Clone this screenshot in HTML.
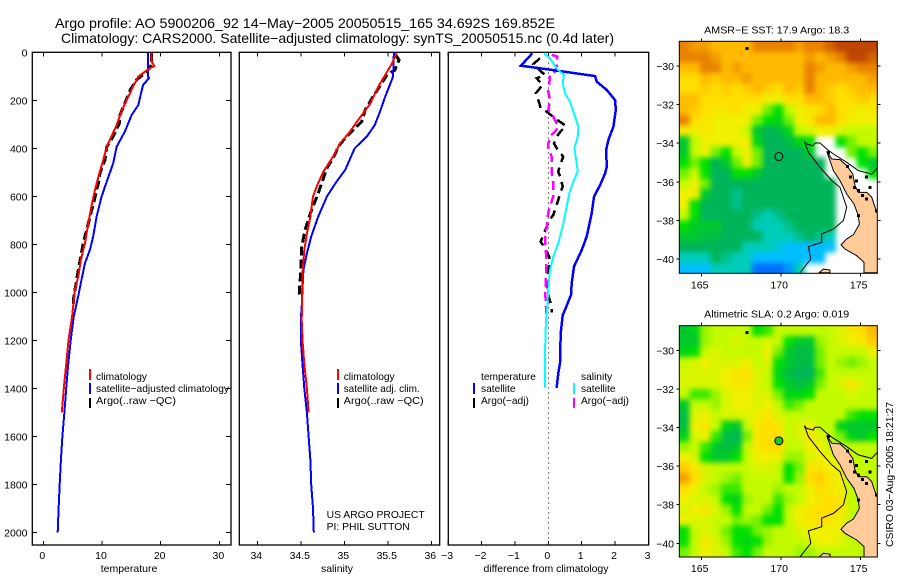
<!DOCTYPE html>
<html lang="en">
<head>
<meta charset="utf-8">
<title>Argo profile 5900206_92</title>
<style>
html,body{margin:0;padding:0;background:#fff;}
svg{display:block;font-family:"Liberation Sans",sans-serif;fill:#000;}
text{font-size:10.5px;}
.tick{font-size:10.5px;}
.title{font-size:14px;}
.leg{font-size:10.2px;}
</style>
</head>
<body>
<svg id="chart" xmlns="http://www.w3.org/2000/svg" width="900" height="580" viewBox="0 0 900 580">
  <defs>
    <filter id="mapSoften" x="-10%" y="-10%" width="120%" height="120%" color-interpolation-filters="sRGB">
      <feGaussianBlur stdDeviation="2.6"/>
    </filter>
    <clipPath id="clipSst"><rect x="679.3" y="41.3" width="198" height="232"/></clipPath>
    <clipPath id="clipSla"><rect x="679.3" y="325.7" width="198" height="231.3"/></clipPath>
  </defs>
  <rect x="0" y="0" width="900" height="580" fill="#fff"/>
  <text class="title" x="55" y="28" textLength="500" lengthAdjust="spacingAndGlyphs">Argo profile: AO 5900206_92 14−May−2005 20050515_165 34.692S 169.852E</text>
  <text class="title" x="61" y="43" textLength="553" lengthAdjust="spacingAndGlyphs">Climatology: CARS2000. Satellite−adjusted climatology: synTS_20050515.nc (0.4d later)</text>

  <text x="129" y="572" text-anchor="middle">temperature</text>
  <text x="337" y="572" text-anchor="middle">salinity</text>
  <text x="546" y="572" text-anchor="middle" textLength="125" lengthAdjust="spacingAndGlyphs">difference from climatology</text>

  <g>
    <rect x="89" y="369" width="2" height="11" fill="#f00"/>
    <rect x="89" y="383" width="2" height="11" fill="#00f"/>
    <rect x="89" y="398" width="2" height="10" fill="#000"/>
    <text class="leg" x="96" y="380">climatology</text>
    <text class="leg" x="96" y="392" textLength="133" lengthAdjust="spacingAndGlyphs">satellite−adjusted climatology</text>
    <text class="leg" x="96" y="404" textLength="80" lengthAdjust="spacingAndGlyphs">Argo(..raw −QC)</text>
  </g>
  <g>
    <rect x="337" y="369" width="2" height="11" fill="#f00"/>
    <rect x="337" y="383" width="2" height="11" fill="#00f"/>
    <rect x="337" y="398" width="2" height="10" fill="#000"/>
    <text class="leg" x="343.7" y="380">climatology</text>
    <text class="leg" x="343.7" y="392" textLength="76" lengthAdjust="spacingAndGlyphs">satellite adj. clim.</text>
    <text class="leg" x="343.7" y="404" textLength="80" lengthAdjust="spacingAndGlyphs">Argo(..raw −QC)</text>
    <text class="leg" x="326.7" y="518" textLength="98" lengthAdjust="spacingAndGlyphs">US ARGO PROJECT</text>
    <text class="leg" x="326.7" y="530" textLength="83" lengthAdjust="spacingAndGlyphs">PI: PHIL SUTTON</text>
  </g>
  <g>
    <rect x="473" y="383" width="2" height="11" fill="#00f"/>
    <rect x="473" y="398" width="2" height="10" fill="#000"/>
    <text class="leg" x="481" y="380">temperature</text>
    <text class="leg" x="481" y="392">satellite</text>
    <text class="leg" x="481" y="404">Argo(−adj)</text>
    <rect x="573" y="383" width="2" height="11" fill="#0ff"/>
    <rect x="573" y="398" width="2" height="10" fill="#f0f"/>
    <text class="leg" x="581" y="380">salinity</text>
    <text class="leg" x="581" y="392">satellite</text>
    <text class="leg" x="581" y="404">Argo(−adj)</text>
  </g>

  <text x="776.7" y="33.5" text-anchor="middle" textLength="145" lengthAdjust="spacingAndGlyphs">AMSR−E SST: 17.9 Argo: 18.3</text>
  <text x="776.7" y="317.5" text-anchor="middle" textLength="145" lengthAdjust="spacingAndGlyphs">Altimetric SLA: 0.2 Argo: 0.019</text>
  <text transform="translate(893,547) rotate(-90)" font-size="11" textLength="145" lengthAdjust="spacingAndGlyphs">CSIRO 03−Aug−2005 18:21:27</text>
</svg>

<script>
// ---------- profile tick labels ----------
const depthTicks = [0,200,400,600,800,1000,1200,1400,1600,1800,2000];
const tempTicks = [0,10,20,30];
const salTicks = [34,34.5,35,35.5,36];
const salTickLabels = ['34','34.5','35','35.5','36'];
const diffTicks = [-3,-2,-1,0,1,2,3];
const diffTickLabels = ['−3','−2','−1','0','1','2','3'];

// ---------- temperature panel ----------
const tempClimDepth = [0,39,57,70,101,143,199,247,303,351,394,450,503,573,642,712,794,864,933,989,1100,1200,1300,1400,1500];
const tempClimValue = [18.47,18.47,18.9,17.9,16.2,15.3,14.2,13.3,12.5,11.6,10.8,10.2,9.55,8.8,8.2,7.66,7.1,6.4,5.97,5.4,4.9,4.3,3.9,3.5,3.15];
const tempSatDepth = [0,100,108,136,185,219,261,330,393,462,539,601,683,767,822,878,948,1011,1100,1200,1300,1400,1500,1600,1700,1800,1900,2000];
const tempSatValue = [17.8,17.8,18.0,17.0,16.5,16.2,15.06,13.9,12.5,11.9,10.8,9.94,9.1,8.5,7.95,7.1,6.5,6.0,5.2,4.67,4.25,3.9,3.6,3.25,3.0,2.8,2.6,2.45];
const tempArgoDepth = [0,53,81,115,157,212,261,296,351,394,450,503,544,615,685,740,794,850,906,961,1017,1050];
const tempArgoValue = [18.47,18.47,17.6,15.9,14.8,13.9,13.07,12.95,11.9,10.8,10.5,9.66,9.4,8.7,7.95,7.4,6.8,6.4,5.97,5.6,5.2,5.1];

// ---------- salinity panel ----------
const salClimDepth = [4,46,95,143,213,282,338,379,435,497,553,601,685,755,824,921,1115,1199,1300,1400,1500];
const salClimValue = [35.60,35.55,35.47,35.39,35.30,35.16,35.05,34.95,34.87,34.76,34.69,34.64,34.61,34.57,34.54,34.52,34.51,34.52,34.54,34.57,34.59];
const salSatDepth = [0,102,185,247,303,351,400,490,539,601,685,768,838,907,1060,1115,1199,1300,1400,1500,1600,1700,1800,1900,2000];
const salSatValue = [35.57,35.56,35.47,35.41,35.35,35.26,35.12,35.01,34.91,34.80,34.70,34.62,34.57,34.53,34.51,34.50,34.50,34.52,34.54,34.57,34.59,34.61,34.62,34.64,34.65];
const salArgoDepth = [11,32,74,94,129,185,240,289,324,358,393,428,483,588,671,740,810,907,1018];
const salArgoValue = [35.59,35.63,35.58,35.49,35.43,35.33,35.24,35.20,35.10,35.01,34.93,34.89,34.80,34.70,34.61,34.55,34.51,34.50,34.48];

// ---------- difference panel ----------
const diffTempSatDepth = [4,56,74,92,99,122,157,199,240,310,365,407,477,504,553,601,671,768,824,893,963,1011,1073,1095,1170,1295,1337,1399];
const diffTempSatValue = [-0.48,-0.82,0.15,1.05,1.40,1.45,1.75,2.0,2.02,1.95,1.8,1.73,1.75,1.7,1.55,1.37,1.3,1.15,1.0,0.77,0.7,0.68,0.5,0.43,0.37,0.35,0.3,0.25];
const diffSalSatDepth = [4,25,67,95,129,171,206,268,310,352,400,463,497,539,588,643,713,796,851,907,977,1060,1115,1248,1399];
const diffSalSatValue = [-0.13,0.05,0.25,0.47,0.43,0.5,0.65,0.8,0.9,0.88,0.78,0.85,0.88,0.75,0.63,0.55,0.45,0.3,0.15,0.05,0,-0.03,-0.07,-0.1,-0.1];
const diffTempArgoDepth = [25,49,95,108,136,171,206,238,247,275,307,324,352,379,404,435,470,497,525,560,588,615,643,678,699,734,789,817,851,893,949,1011,1060,1085];
const diffTempArgoValue = [-0.25,-0.45,-0.1,-0.35,-0.17,-0.37,-0.28,-0.22,-0.05,0.2,0.53,0.4,0.25,0.17,0.27,0.45,0.35,0.3,0.37,0.43,0.35,0.3,0.23,0.15,0.03,-0.07,-0.23,-0.1,0.02,0.02,-0.07,0,0.1,0.1];
const diffSalArgoDepth = [11,18,60,81,95,129,164,199,240,268,296,317,345,379,400,435,497,546,601,664,713,768,838,921,1004,1060,1090];
const diffSalArgoValue = [0.1,0.27,0.25,0.2,0.05,0.03,0,0.05,0,0.15,0.25,0.28,0.1,0,0,0.1,0.1,0.15,0.15,0,-0.03,-0.1,-0.07,-0.07,-0.09,-0.07,-0.07];

// ---------- map values: colour-level grids (null = no data) ----------
const sstLevels = [
[11,10.5,10.5,10,10,10,10,11,11,11,11,10.5,11,11,11.5,12,12.5,12.5,12],
[11,11,11,10.5,10,10,10,10,10,10,10,10,10.5,10,10.5,11,12,12,11.5],
[10,10,11,11,10,10.5,10,10,10,10,10,10,11,10.5,10,10,10.5,11,11],
[9,9,10,9.5,10,10,10.5,10,10,10,10,10,11,10,10,10,10,10,10.5],
[9,9,9.5,9,9.5,9,9.5,10,9.5,9,10,9.5,11,10,9.5,9,9.5,10,10],
[10,10,9,9,9,9,9,9,8,8,9,9,10,10,9.5,9,9,9.5,9],
[10,9.5,9,8.5,8.5,9,8,8,6,5,7,8,8.5,9,10,9,8.5,8,8.5],
[11,9,8.5,8,8,8,8,6,5,4.5,6,8,8.5,10,10,9,8,8,8],
[8.5,8,8.5,8,8,8,7,4,3,3.5,4.5,7,7.5,8,8,7.5,7,7,7],
[4,7,8,8,8,8,8,4.5,3,3,3.5,4.5,5,null,null,5,6,7,7],
[4,7,8,6,5,7,8,6,3,3,3,3,4,null,null,null,6,5,6],
[5,6,5,3,4,6,8,6,3,3,3,3,3,3,null,null,null,5,4],
[6,7,5,3,3,5,5,4,3,3,3,3,3,3,null,null,null,null,5],
[7,8,6,3,3,3,3,3,3,3,3,3,3,3,3,null],
[8,8,4,3,3,2.5,3,3,3,3,3,3,3,3,3,null],
[8,5,3,3,3,2.5,3,3,3,3,3,3,3,3,3,null],
[7,5,3,3,3,3,3,2.5,2,2.5,3,3,3,3,3,null],
[5,4,4,4,3,3,3,2,2,2,2.5,3,3,3,3,null],
[4,4,3.5,3.5,3,3,3,3,2,2,2,2.5,3,2.5,2,null],
[3,3,3,3,3,3,2,2,2,1.5,1,1,1,1,1,null],
[2,2,2,3,2.5,2,2,1,1,1,1,1,1,1,null],
[1,1,1,2,2,2,2,0,0,0,0.5,2,null]
];
const slaLevels = [
[4,4.5,6.5,7,7,7,7,5,5.5,7,7,7,7,7,7,7.5,8.5,9,10],
[4,4,6.5,7,7,7.5,7,7,7.5,7,5,4,4,6.5,7,7.5,8,8.5,9.5],
[4.5,5,7,7.5,7,7,7,7,8,6,4,3.5,3.5,6,7,7,7,7,8],
[7,7.5,8,7.5,7.5,7.5,8,7,7.5,5,4,3.5,3.5,6,7,6.5,6,6.5,7],
[7.5,7.5,7.5,7.5,8,8.5,9,7.5,7,4.5,3.5,3,3,5.5,7,7,7,7,7],
[7.5,7.5,7.5,7.5,8,8.5,8.5,7.5,7,5,4,3.5,4,6,7,7.5,8.5,7.5,7],
[7,5.5,5.5,6.5,7.5,8,8,7.5,7.5,6,4.5,4.5,5,7,7,7,7.5,7,7],
[4,7,7,6.5,7.5,8,8,7.5,8,7,5.5,6,7,7,7,7,7,7,7],
[3.5,7.5,8,7,7.5,7.5,7.5,8,8.5,7.5,7,7,7,7,7,7,5.5,5,5],
[3.5,8,8.5,7,4.5,4,7,8.5,9,8.5,7,7.5,8,7,7,4.5,4,4,4],
[4.5,7.5,8,5.5,3.5,3,6,8.5,9,9,7,7.5,8.5,7.5,7,6,4.5,4,5],
[6.5,7,5.5,4,3.5,4,7,8.5,9,9,7,7,8,8,7,7,7,7,7],
[8,7.5,5,4,4,5,7,8,8,8,6.5,6.5,7.5,8,8,7,7,7,7],
[9.5,8.5,7.5,7,7,7,7,7.5,7.5,7,5,6,8.5,8.5,8,8,7,7,7],
[10.5,9,7.5,7,6.5,6,7,7,7,7,5,6.5,9,9.5,8.5,8,7,7,7],
[9,8,7,6.5,5.5,5.5,7,7,7,6.5,7,7,8,9,8.5,8,7,7,7],
[8,7.5,7.5,7,5,4.5,6.5,7,7,5.5,6.5,7,8,8.5,9,8.5,7,7,7],
[7.5,8,8.5,7.5,6.5,5,7,7,6,5,7,8,8.5,9,9,8.5,7,7,7],
[8,7.5,7.5,7,7,6,6.5,6,5,5,7,8,8.5,9,8.5,8,7,7,7],
[5,7,7.5,7,6,5,5,6,6.5,7,7,7.5,8,8,8,8,7,7,7],
[5,7,8.5,7.5,6.5,5,4.5,5,6.5,7,7,7,7.5,8,8,7.5,7,7,7],
[6,7,8,7.5,7,5.5,5,6,7,7,7,6.5,6.5,7,7,7,7,7,7]
];
const lonTicks = [165,170,175];
const latTicks = [-30,-32,-34,-36,-38,-40];
const latTickLabels = ['−30','−32','−34','−36','−38','−40'];
const floatLon = 169.852;
const floatLat = -34.692;
const landLon = [172.86,173.18,173.70,174.12,174.50,174.64,174.85,175.38,175.69,175.90,176.07,176.07,175.21,175.21,174.75,174.01,173.76,174.12,174.54,174.92,174.85,174.58,174.12,173.70,173.28,173.07];
const landLat = [-34.42,-34.82,-34.85,-35.16,-35.60,-36.20,-36.55,-36.55,-36.80,-37.32,-37.67,-40.71,-40.71,-40.17,-39.83,-39.48,-39.27,-38.96,-38.74,-38.19,-37.75,-37.15,-36.63,-35.94,-35.42,-34.90];
const islandLon = [172.38,172.65,173.07,173.07];
const islandLat = [-40.71,-40.52,-40.57,-40.71];
const shelfLon = [176.05,175.69,174.85,174.12,173.28,172.86,172.44,172.12,172.02,171.60,171.46,171.71,172.44,173.18,173.70,174.12,173.91,173.28,172.55,172.55,171.71,171.86,171.18];
const shelfLat = [-35.28,-35.60,-35.42,-34.99,-34.56,-34.30,-33.99,-33.99,-34.13,-34.04,-33.90,-34.47,-35.25,-35.94,-36.29,-37.32,-38.01,-38.45,-38.70,-39.14,-39.36,-40.0,-40.71];
const isletLon = [172.97,174.18,174.35,174.75,174.62,174.85,175.38,176.0,175.38,174.85,175.1,175.6,167.85];
const isletLat = [-34.47,-35.21,-35.76,-35.97,-36.3,-36.45,-36.89,-37.5,-35.76,-37.75,-36.7,-36.3,-29.09];

// ---------- geometry ----------
const NS = 'http://www.w3.org/2000/svg';
const svg = document.getElementById('chart');
const plotTop = 52.3, plotBottom = 545;
const yDepth = d => 52.3 + 0.24 * d;
const xTemp = t => 43.3 + 5.87 * t;
const xSal = s => 257.3 + 87 * (s - 34);
const xDiff = v => 548.3 + 33.4 * v;
const levelColors = [[0,110,255],[0,190,255],[0,205,185],[0,180,90],[0,200,45],[0,225,0],[115,240,0],[196,250,0],[240,240,0],[255,222,0],[255,186,0],[232,130,0],[190,70,0]];
function levelColor(v) {
  const lo = Math.max(0, Math.min(levelColors.length - 1, Math.floor(v)));
  const hi = Math.min(levelColors.length - 1, lo + 1);
  const f = Math.max(0, Math.min(1, v - lo));
  const c = levelColors[lo].map((a, i) => Math.round(a + (levelColors[hi][i] - a) * f));
  return 'rgb(' + c.join(',') + ')';
}

function make(tag, attrs, parent) {
  const el = document.createElementNS(NS, tag);
  for (const k in attrs) el.setAttribute(k, attrs[k]);
  (parent || svg).appendChild(el);
  return el;
}
function label(txt, x, y, anchor, parent) {
  const el = make('text', {x: x, y: y, 'text-anchor': anchor, class: 'tick'}, parent);
  el.textContent = txt;
  
  
  return el;
}
function tick(x1, y1, x2, y2, parent) {
  const el = make('line', {x1: x1, y1: y1, x2: x2, y2: y2, stroke: '#000', 'stroke-width': 1, 'shape-rendering': 'crispEdges'}, parent);
  
  
}
function profile(name, parent, xf, depths, values, color, width, dash) {
  const pts = depths.map((d, i) => xf(values[i]).toFixed(1) + ',' + yDepth(d).toFixed(1)).join(' ');
  const el = make('polyline', {points: pts, fill: 'none', stroke: color, 'stroke-width': width, 'shape-rendering': 'crispEdges'}, parent);
  if (dash) el.setAttribute('stroke-dasharray', dash);
  
  
}
function panel(name, left, right) {
  const g = make('g', {});
  
  
  return {g: g, left: left, right: right};
}
function frame(p) {
  const el = make('rect', {x: p.left, y: plotTop, width: p.right - p.left, height: plotBottom - plotTop, fill: 'none', stroke: '#000', 'stroke-width': 1.3}, p.g);
  
  
}
function xAxis(p, xf, ticks, labels) {
  ticks.forEach((t, i) => {
    const x = xf(t);
    tick(x, plotTop, x, plotTop + 4, p.g);
    tick(x, plotBottom, x, plotBottom - 4, p.g);
    label(labels[i], x - 1, 559, 'middle', p.g);
  });
}

// ---------- temperature panel ----------
const p1 = panel('temperature-panel', 32.3, 231);
frame(p1);
depthTicks.forEach(d => {
  tick(32.3, yDepth(d), 37, yDepth(d), p1.g);
  tick(231, yDepth(d), 226, yDepth(d), p1.g);
  label(String(d), 27.5, yDepth(d) + 4, 'end', p1.g);
});
xAxis(p1, xTemp, tempTicks, tempTicks.map(String));
profile('temperature-argo-line', p1.g, xTemp, tempArgoDepth, tempArgoValue, '#000', 3, '9 4');
profile('temperature-satellite-line', p1.g, xTemp, tempSatDepth, tempSatValue, '#00f', 2);
profile('temperature-climatology-line', p1.g, xTemp, tempClimDepth, tempClimValue, '#f00', 2);

// ---------- salinity panel ----------
const p2 = panel('salinity-panel', 239.3, 439.7);
frame(p2);
xAxis(p2, xSal, salTicks, salTickLabels);
profile('salinity-argo-line', p2.g, xSal, salArgoDepth, salArgoValue, '#000', 3, '9 4');
profile('salinity-satellite-line', p2.g, xSal, salSatDepth, salSatValue, '#00f', 2);
profile('salinity-climatology-line', p2.g, xSal, salClimDepth, salClimValue, '#f00', 2);

// ---------- difference panel ----------
const p3 = panel('difference-panel', 448.3, 648.7);
frame(p3);
xAxis(p3, xDiff, diffTicks, diffTickLabels);
const zeroLine = make('line', {x1: xDiff(0), y1: plotTop, x2: xDiff(0), y2: plotBottom, stroke: '#000', 'stroke-width': 1, 'stroke-dasharray': '1 4', 'shape-rendering': 'crispEdges'}, p3.g);


profile('difference-temperature-argo-line', p3.g, xDiff, diffTempArgoDepth, diffTempArgoValue, '#000', 2.5, '9 6');
profile('difference-salinity-argo-line', p3.g, xDiff, diffSalArgoDepth, diffSalArgoValue, '#f0f', 2.5, '9 5');
profile('difference-temperature-satellite-line', p3.g, xDiff, diffTempSatDepth, diffTempSatValue, '#00f', 2.5);
profile('difference-salinity-satellite-line', p3.g, xDiff, diffSalSatDepth, diffSalSatValue, '#0ff', 2);

// ---------- maps ----------
function drawMap(name, top, bottom, lat30Y, grid, markerFill, clipId) {
  const left = 679.3, right = 877.3;
  const xLon = lon => 701.7 + 15.9 * (lon - 165);
  const yLat = lat => lat30Y + 19.3 * (-30 - lat);
  const g = make('g', {});
  
  
  const clipGroup = make('g', {'clip-path': 'url(#' + clipId + ')'}, g);
  
  
  const cells = make('g', {filter: 'url(#mapSoften)'}, clipGroup);
  
  
  const nRows = grid.length, nCols = 19, bleed = 12;
  const cw = (right - left) / nCols, ch = (bottom - top) / nRows;
  grid.forEach((row, r) => {
    row.forEach((v, c) => {
      if (v === null) return;
      const x0 = c === 0 ? left - bleed : left + c * cw;
      const x1 = c === nCols - 1 ? right + bleed : left + (c + 1) * cw + 0.5;
      const y0 = r === 0 ? top - bleed : top + r * ch;
      const y1 = r === nRows - 1 ? bottom + bleed : top + (r + 1) * ch + 0.5;
      const cell = make('rect', {x: x0, y: y0, width: x1 - x0, height: y1 - y0, fill: levelColor(v), 'shape-rendering': 'crispEdges'}, cells);
      
      
    });
  });
  const toPts = (lons, lats) => lons.map((l, i) => xLon(l).toFixed(1) + ',' + yLat(lats[i]).toFixed(1)).join(' ');
  const land = make('polygon', {points: toPts(landLon, landLat), fill: '#ffcc99', stroke: '#000', 'stroke-width': 1}, clipGroup);
  
  
  const island = make('polygon', {points: toPts(islandLon, islandLat), fill: '#ffcc99', stroke: '#000', 'stroke-width': 1}, clipGroup);
  
  
  const shelf = make('polyline', {points: toPts(shelfLon, shelfLat), fill: 'none', stroke: '#000', 'stroke-width': 1}, clipGroup);
  
  
  isletLon.forEach((l, i) => {
    const dot = make('rect', {x: xLon(l) - 1.5, y: yLat(isletLat[i]) - 1.5, width: 3, height: 3, fill: '#000', 'shape-rendering': 'crispEdges'}, clipGroup);
    
    
  });
  const fr = make('rect', {x: left, y: top, width: right - left, height: bottom - top, fill: 'none', stroke: '#000', 'stroke-width': 1}, g);
  
  
  lonTicks.forEach(l => {
    tick(xLon(l), top, xLon(l), top - 3, g);
    tick(xLon(l), bottom, xLon(l), bottom + 3, g);
    label(String(l), xLon(l) - 2, bottom + 15, 'middle', g);
  });
  latTicks.forEach((l, i) => {
    tick(left, yLat(l), left - 3, yLat(l), g);
    tick(right, yLat(l), right + 3, yLat(l), g);
    label(latTickLabels[i], 674, yLat(l) + 4, 'end', g);
  });
  const marker = make('circle', {cx: xLon(floatLon), cy: yLat(floatLat), r: 4, fill: markerFill, stroke: '#000', 'stroke-width': 1}, g);
  
  
}
drawMap('sst-map', 41.3, 273.3, 66, sstLevels, '#00b45a', 'clipSst');
drawMap('sla-map', 325.7, 557, 350.3, slaLevels, '#1ec81e', 'clipSla');
</script>
</body>
</html>
